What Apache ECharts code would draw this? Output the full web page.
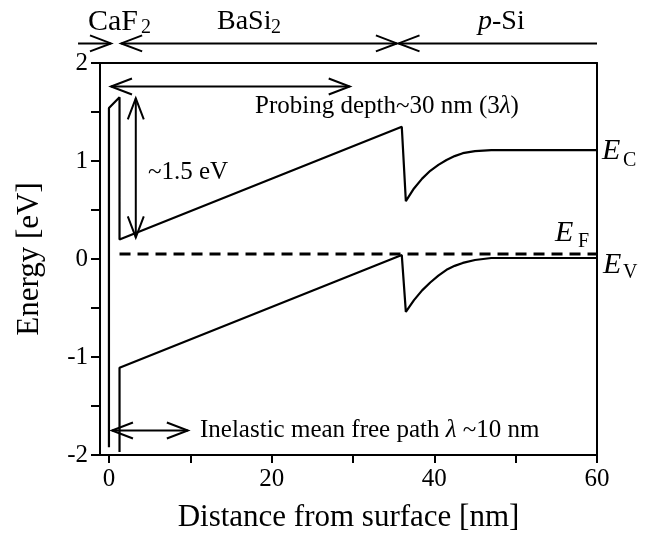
<!DOCTYPE html>
<html>
<head>
<meta charset="utf-8">
<script src="https://cdn.jsdelivr.net/npm/echarts@6/dist/echarts.min.js"></script>
<style>html,body{margin:0;padding:0;background:#fff;}#c{width:655px;height:537px;}</style>
</head>
<body>
<div id="c"></div>
<script>
// Conduction band edge E_C
const ecX = [0, 0, 1.3, 1.3, 36.0, 36.5, 37.5, 38.5, 39.5, 40.5, 41.5, 42.5, 43.5, 45, 47, 60];
const ecY = [-1.92, 1.54, 1.65, 0.20, 1.35, 0.59, 0.72, 0.82, 0.90, 0.96, 1.01, 1.05, 1.08, 1.10, 1.11, 1.11];
// Valence band edge E_V
const evX = [1.3, 1.3, 36.0, 36.5, 37.5, 38.5, 39.5, 40.5, 41.5, 42.5, 43.5, 45, 47, 60];
const evY = [-1.97, -1.11, 0.04, -0.54, -0.42, -0.32, -0.24, -0.17, -0.11, -0.07, -0.04, -0.01, 0.01, 0.01];
// Fermi level E_F
const efX = [1.3, 60];
const efY = [0.05, 0.05];
// Axis ticks / labels
const xTickValues = [0, 10, 20, 30, 40, 50, 60];
const xLabelValues = [0, 20, 40, 60];
const yLabelValues = [-2, -1, 0, 1, 2];
// Annotation arrows: [x1, y1, x2, y2, headAtStart, headAtEnd]
const arrows = [
  [-3.8, 2.2, 0.25, 2.2, 0, 1],   // CaF2
  [1.5, 2.2, 35.4, 2.2, 1, 1],    // BaSi2
  [35.6, 2.2, 60, 2.2, 1, 0],     // p-Si
  [0.25, 1.76, 29.6, 1.76, 1, 1], // probing depth
  [3.3, 1.64, 3.3, 0.22, 1, 1],   // ~1.5 eV
  [0.37, -1.75, 9.7, -1.75, 1, 1] // IMFP
];

const zip = (a, b) => a.map((v, i) => [v, b[i]]);
const FONT = 'Liberation Serif';
const chart = echarts.init(document.getElementById('c'), null, {renderer: 'canvas'});

function renderArrow(params, api) {
  const p1 = api.coord([api.value(0), api.value(1)]);
  const p2 = api.coord([api.value(2), api.value(3)]);
  const hs = api.value(4), he = api.value(5);
  const dx = p2[0] - p1[0], dy = p2[1] - p1[1];
  const len = Math.hypot(dx, dy) || 1;
  const ux = dx / len, uy = dy / len;
  const L = 21, W = 8;
  const st = {stroke: '#000', fill: null, lineWidth: 2};
  function head(tip, d) {
    const bx = tip[0] - d[0] * L, by = tip[1] - d[1] * L;
    const nx = -d[1], ny = d[0];
    return {type: 'polyline', shape: {points: [[bx + nx * W, by + ny * W], tip, [bx - nx * W, by - ny * W]]}, style: st};
  }
  const children = [{type: 'line', shape: {x1: p1[0], y1: p1[1], x2: p2[0], y2: p2[1]}, style: st}];
  if (he) children.push(head(p2, [ux, uy]));
  if (hs) children.push(head(p1, [-ux, -uy]));
  return {type: 'group', children: children};
}

function txt(x, y, text, size, extra) {
  return Object.assign({
    type: 'text', x: x, y: y, silent: true,
    style: Object.assign({text: text, fontFamily: FONT, fontSize: size, fill: '#000', align: 'left', verticalAlign: 'middle'}, extra && extra.style)
  }, extra && extra.el);
}

const lineStyle = {color: '#000', width: 2.2};
const ital = {style: {fontStyle: 'italic'}};

chart.setOption({
  animation: false,
  backgroundColor: '#fff',
  grid: {left: 100, right: 58, top: 63, bottom: 82, outerBoundsMode: 'none', containLabel: false},
  xAxis: [{
    type: 'value', min: -1.1, max: 60,
    name: 'Distance from surface [nm]', nameLocation: 'middle', nameGap: 47,
    nameTextStyle: {fontFamily: FONT, fontSize: 31, color: '#000'},
    axisLine: {show: true, onZero: false, lineStyle: {color: '#000', width: 2}},
    axisTick: {show: true, inside: false, length: 8, customValues: xTickValues, lineStyle: {color: '#000', width: 2}},
    axisLabel: {show: true, customValues: xLabelValues, margin: 12, fontFamily: FONT, fontSize: 25, color: '#000'},
    splitLine: {show: false}
  }, {
    type: 'value', position: 'top', min: -1.1, max: 60,
    axisLine: {show: true, onZero: false, lineStyle: {color: '#000', width: 2}},
    axisTick: {show: false}, axisLabel: {show: false}, splitLine: {show: false}
  }],
  yAxis: [{
    type: 'value', min: -2, max: 2, interval: 0.5,
    name: 'Energy [eV]', nameLocation: 'middle', nameGap: 55, nameRotate: 90,
    nameTextStyle: {fontFamily: FONT, fontSize: 31, color: '#000'},
    axisLine: {show: true, onZero: false, lineStyle: {color: '#000', width: 2}},
    axisTick: {show: true, inside: false, length: 9, lineStyle: {color: '#000', width: 2}},
    axisLabel: {show: true, customValues: yLabelValues, margin: 12, fontFamily: FONT, fontSize: 25, color: '#000'},
    splitLine: {show: false}
  }, {
    type: 'value', position: 'right', min: -2, max: 2,
    axisLine: {show: true, onZero: false, lineStyle: {color: '#000', width: 2}},
    axisTick: {show: false}, axisLabel: {show: false}, splitLine: {show: false}
  }],
  series: [
    {type: 'line', name: 'EC', data: zip(ecX, ecY), symbol: 'none', lineStyle: lineStyle, clip: false},
    {type: 'line', name: 'EV', data: zip(evX, evY), symbol: 'none', lineStyle: lineStyle, clip: false},
    {type: 'line', name: 'EF', data: zip(efX, efY), symbol: 'none', lineStyle: {color: '#000', width: 3, type: [11, 7]}},
    {type: 'custom', name: 'arrows', data: arrows, renderItem: renderArrow, encode: {x: [0, 2], y: [1, 3]}, clip: false, silent: true}
  ],
  graphic: [
    txt(88, 22, 'CaF', 30), txt(141, 28, '2', 20),
    txt(217, 22, 'BaSi', 28), txt(271, 28, '2', 20),
    txt(478, 22, '{i|p}-Si', 28, {style: {rich: {i: {fontStyle: 'italic', fontFamily: FONT, fontSize: 28}}}}),
    txt(255, 106, 'Probing depth~30 nm (3{i|λ})', 25, {style: {rich: {i: {fontStyle: 'italic', fontFamily: FONT, fontSize: 25}}}}),
    txt(148, 172, '~1.5 eV', 25),
    txt(200, 430, 'Inelastic mean free path {i|λ} ~10 nm', 25, {style: {rich: {i: {fontStyle: 'italic', fontFamily: FONT, fontSize: 25}}}}),
    txt(602, 151, 'E', 30, ital), txt(623, 161, 'C', 20),
    txt(555, 233, 'E', 30, ital), txt(578, 242, 'F', 20),
    txt(603, 265, 'E', 30, ital), txt(623, 273, 'V', 20)
  ]
});
</script>
</body>
</html>
